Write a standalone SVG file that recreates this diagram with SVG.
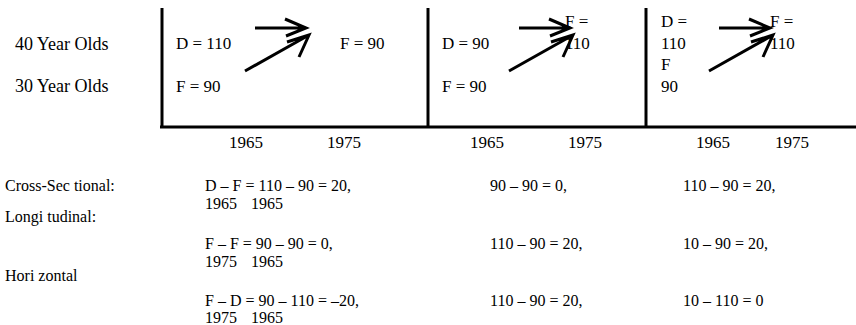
<svg xmlns="http://www.w3.org/2000/svg" width="856" height="325" viewBox="0 0 856 325">
<style>
text{font-family:"Liberation Serif","Tinos","Times New Roman","DejaVu Serif",serif;font-size:17px;fill:#000}
.f{font-size:16px}
.lab{font-size:18px}
.ax{stroke:#000;stroke-width:3;fill:none}
.ar{stroke:#000;stroke-width:3;fill:none;stroke-linecap:butt;stroke-linejoin:miter}
</style>
<rect width="856" height="325" fill="#fff"/>
<g id="axes">
<line class="ax" x1="162" y1="8" x2="162" y2="128"/>
<line class="ax" x1="428" y1="8" x2="428" y2="128"/>
<line class="ax" x1="646" y1="8" x2="646" y2="128"/>
<line class="ax" x1="160" y1="127" x2="856" y2="127"/>
</g>
<g id="row-labels">
<text class="lab" x="15" y="50">40 Year Olds</text>
<text class="lab" x="15" y="92">30 Year Olds</text>
</g>
<g id="panel1">
<text x="176" y="49">D = 110</text>
<text x="176" y="92">F = 90</text>
<text x="340" y="49">F = 90</text>
<text x="229" y="148">1965</text>
<text x="327" y="148">1975</text>
</g>
<g id="panel2">
<text x="442" y="49">D = 90</text>
<text x="442" y="92">F = 90</text>
<text x="565" y="27">F =</text>
<text x="565" y="49">110</text>
<text x="470" y="148">1965</text>
<text x="568" y="148">1975</text>
</g>
<g id="panel3">
<text x="661" y="27">D =</text>
<text x="661" y="49">110</text>
<text x="661" y="70">F</text>
<text x="661" y="92">90</text>
<text x="770" y="27">F =</text>
<text x="770" y="49">110</text>
<text x="696" y="148">1965</text>
<text x="775" y="148">1975</text>
</g>
<g id="connectors">
<path class="ar" d="M255,28 H306 M285,19 L306,28 L286,36 M245,71 L309,35 M287,42 L309,35 L299,57"/>
<path class="ar" d="M519,28 H570 M549,19 L570,28 L550,36 M509,71 L573,35 M551,42 L573,35 L563,57"/>
<path class="ar" d="M719,28 H770 M749,19 L770,28 L750,36 M709,71 L773,35 M751,42 L773,35 L763,57"/>
</g>
<g id="formulas">
<text class="f" x="5" y="191">Cross-Sec tional:</text>
<text class="f" x="205" y="191">D – F = 110 – 90 = 20,</text>
<text class="f" x="205" y="209">1965</text>
<text class="f" x="251" y="209">1965</text>
<text class="f" x="490" y="191">90 – 90 = 0,</text>
<text class="f" x="683" y="191">110 – 90 = 20,</text>
<text class="f" x="5" y="222">Longi tudinal:</text>
<text class="f" x="205" y="249">F – F = 90 – 90 = 0,</text>
<text class="f" x="205" y="267">1975</text>
<text class="f" x="251" y="267">1965</text>
<text class="f" x="490" y="249">110 – 90 = 20,</text>
<text class="f" x="683" y="249">10 – 90 = 20,</text>
<text class="f" x="5" y="281">Hori zontal</text>
<text class="f" x="205" y="306">F – D = 90 – 110 = –20,</text>
<text class="f" x="205" y="323">1975</text>
<text class="f" x="251" y="323">1965</text>
<text class="f" x="490" y="306">110 – 90 = 20,</text>
<text class="f" x="683" y="306">10 – 110 = 0</text>
</g>
</svg>
